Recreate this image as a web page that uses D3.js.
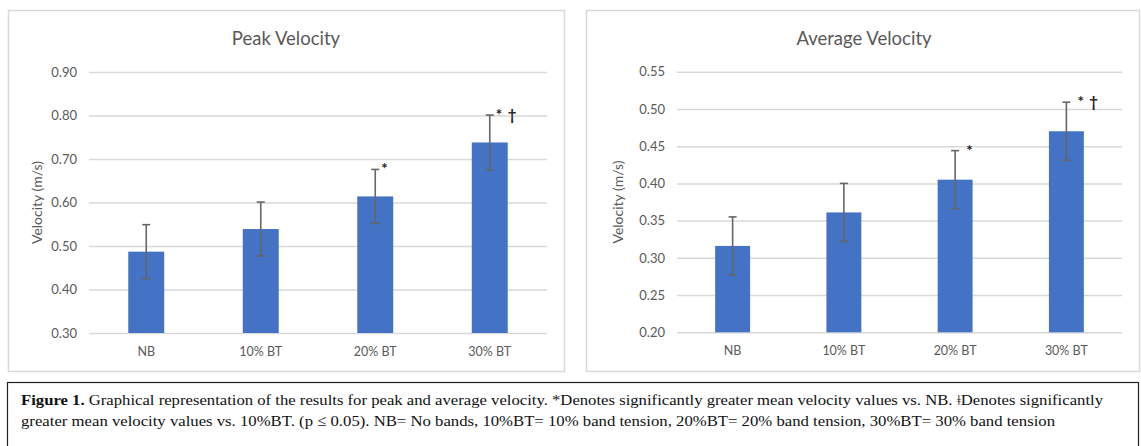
<!DOCTYPE html>
<html>
<head>
<meta charset="utf-8">
<script src="https://cdn.jsdelivr.net/npm/d3@7.9.0/dist/d3.min.js"></script>
<style>
  body { margin: 0; background: #fff; }
  svg { display: block; }
</style>
</head>
<body>
<svg id="fig" width="1141" height="446"></svg>
<script>
// data
const categories = ['NB', '10% BT', '20% BT', '30% BT'];

const peakMeans = [0.487, 0.539, 0.614, 0.738];
const peakErrors = [0.062, 0.062, 0.062, 0.063];
const peakTicks = [0.30, 0.40, 0.50, 0.60, 0.70, 0.80, 0.90];
const peakMarks = ['', '', '*', '*\u2009 \u2020'];

const avgMeans = [0.316, 0.361, 0.405, 0.470];
const avgErrors = [0.039, 0.039, 0.039, 0.039];
const avgTicks = [0.20, 0.25, 0.30, 0.35, 0.40, 0.45, 0.50, 0.55];
const avgMarks = ['', '', '*', '*\u2009 \u2020'];

const captionLine1 = 'Graphical representation of the results for peak and average velocity. *Denotes significantly greater mean velocity values vs. NB. \u01C2Denotes significantly';
const captionLine2 = 'greater mean velocity values vs. 10%BT. (p \u2264 0.05). NB= No bands, 10%BT= 10% band tension, 20%BT= 20% band tension, 30%BT= 30% band tension';

const svg = d3.select('#fig');
const font = 'Lato, "Open Sans", sans-serif';
const grey = '#595959';

function drawPanel(opts) {
    let g = svg.append('g');

    g.append('rect')
        .attr('x', opts.box[0] + 0.5).attr('y', opts.box[1] + 0.5)
        .attr('width', opts.box[2]).attr('height', opts.box[3])
        .attr('fill', '#fff').attr('stroke', '#d9d9d9').attr('stroke-width', 1.5);

    let x = d3.scaleBand()
        .domain(categories)
        .range(opts.xRange)
        .paddingInner(0.686)
        .paddingOuter(0.343);

    let y = d3.scaleLinear()
        .domain(opts.yDomain)
        .range(opts.yRange);

    // gridlines + tick labels
    let yAxis = d3.axisLeft(y)
        .tickValues(opts.ticks)
        .tickFormat(d3.format('.2f'))
        .tickSize(-(opts.xRange[1] - opts.xRange[0]))
        .tickPadding(12);

    let ax = g.append('g')
        .attr('transform', `translate(${opts.xRange[0]},0)`)
        .call(yAxis);
    ax.select('.domain').remove();
    ax.selectAll('.tick line').attr('stroke', '#d9d9d9').attr('stroke-width', 1.5);
    ax.selectAll('.tick text')
        .attr('fill', grey)
        .style('font-family', font)
        .style('font-size', '13px');

    let xAxis = d3.axisBottom(x).tickSize(0).tickPadding(14);
    let bx = g.append('g')
        .attr('transform', `translate(0,${opts.yRange[0]})`)
        .call(xAxis);
    bx.select('.domain').remove();
    bx.selectAll('.tick text')
        .attr('fill', grey)
        .style('font-family', font)
        .style('font-size', '12.5px');

    let data = categories.map((c, i) => ({
        cat: c, mean: opts.means[i], err: opts.errors[i], mark: opts.marks[i]
    }));

    g.selectAll('rect.bar')
        .data(data)
        .join('rect')
        .attr('class', 'bar')
        .attr('x', d => x(d.cat))
        .attr('width', x.bandwidth())
        .attr('y', d => y(d.mean))
        .attr('height', d => y(opts.yDomain[0]) - y(d.mean))
        .attr('fill', '#4472c4');

    // error bars
    let eb = g.selectAll('g.err')
        .data(data)
        .join('g')
        .attr('class', 'err')
        .attr('stroke', '#666')
        .attr('stroke-width', 1.6);

    eb.append('line')
        .attr('x1', d => x(d.cat) + x.bandwidth() / 2)
        .attr('x2', d => x(d.cat) + x.bandwidth() / 2)
        .attr('y1', d => y(d.mean - d.err))
        .attr('y2', d => y(d.mean + d.err));
    [-1, 1].forEach(s => {
        eb.append('line')
            .attr('x1', d => x(d.cat) + x.bandwidth() / 2 - 4)
            .attr('x2', d => x(d.cat) + x.bandwidth() / 2 + 4)
            .attr('y1', d => y(d.mean + s * d.err))
            .attr('y2', d => y(d.mean + s * d.err));
    });

    g.selectAll('text.mark')
        .data(data.filter(d => d.mark))
        .join('text')
        .attr('class', 'mark')
        .attr('x', d => x(d.cat) + x.bandwidth() / 2 + opts.markDx)
        .attr('y', d => y(d.mean + d.err) + 5)
        .attr('fill', '#222')
        .style('font-family', font)
        .style('font-size', '15px')
        .style('font-weight', 'bold')
        .text(d => d.mark);

    g.append('text')
        .attr('x', opts.titleX).attr('y', 45)
        .attr('text-anchor', 'middle')
        .attr('fill', grey)
        .style('font-family', font)
        .style('font-size', '18.5px')
        .text(opts.title);

    g.append('text')
        .attr('transform', `translate(${opts.yTitleX},${(opts.yRange[0] + opts.yRange[1]) / 2}) rotate(-90)`)
        .attr('text-anchor', 'middle')
        .attr('fill', grey)
        .style('font-family', font)
        .style('font-size', '14px')
        .text('Velocity (m/s)');
}

drawPanel({
    box: [8, 10, 556, 361],
    xRange: [89, 547], yRange: [333, 72], yDomain: [0.30, 0.90],
    ticks: peakTicks, means: peakMeans, errors: peakErrors, marks: peakMarks,
    title: 'Peak Velocity', titleX: 286, yTitleX: 42, markDx: 6
});

drawPanel({
    box: [586, 10, 553, 361],
    xRange: [677, 1122], yRange: [332.3, 71.7], yDomain: [0.20, 0.55],
    ticks: avgTicks, means: avgMeans, errors: avgErrors, marks: avgMarks,
    title: 'Average Velocity', titleX: 864, yTitleX: 623, markDx: 11
});

// caption box
svg.append('rect')
    .attr('x', 7.5).attr('y', 382.5)
    .attr('width', 1131).attr('height', 80)
    .attr('fill', 'none').attr('stroke', '#222').attr('stroke-width', 1.2);

const serif = '"Liberation Serif", "Times New Roman", serif';
let cap1 = svg.append('text')
    .attr('x', 21).attr('y', 405)
    .attr('textLength', 1082).attr('lengthAdjust', 'spacingAndGlyphs')
    .attr('fill', '#111')
    .style('font-family', serif)
    .style('font-size', '15.5px');
cap1.append('tspan').style('font-weight', 'bold').text('Figure 1.');
cap1.append('tspan').text(' ' + captionLine1);

svg.append('text')
    .attr('x', 21).attr('y', 426)
    .attr('textLength', 1034).attr('lengthAdjust', 'spacingAndGlyphs')
    .attr('fill', '#111')
    .style('font-family', serif)
    .style('font-size', '15.5px')
    .text(captionLine2);
</script>
</body>
</html>
